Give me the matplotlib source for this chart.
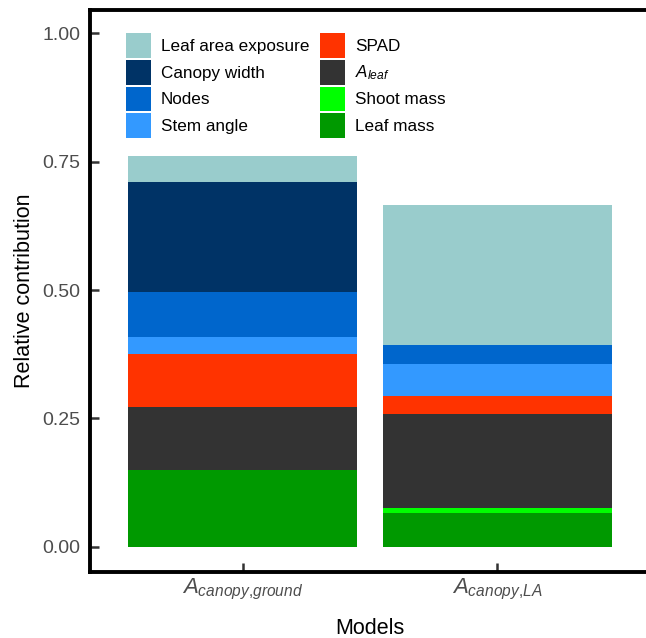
import matplotlib
matplotlib.use("Agg")
import matplotlib.pyplot as plt
from matplotlib.patches import Patch

# stacked from bottom to top
components = ["Leaf mass", "Shoot mass", "$A_{leaf}$", "SPAD",
              "Stem angle", "Nodes", "Canopy width", "Leaf area exposure"]
colors = ["#009900", "#00FF00", "#333333", "#FF3300",
          "#3399FF", "#0066CC", "#003366", "#99CCCC"]

models = [r"$A_{canopy{,}ground}$", r"$A_{canopy{,}LA}$"]
ground = [0.149, 0.000, 0.123, 0.104, 0.033, 0.087, 0.215, 0.051]
la = [0.065, 0.011, 0.183, 0.034, 0.062, 0.037, 0.000, 0.273]

plt.rcParams["font.family"] = ["Liberation Sans", "DejaVu Sans"]
plt.rcParams["mathtext.fontset"] = "custom"
plt.rcParams["mathtext.rm"] = "Liberation Sans"
plt.rcParams["mathtext.it"] = "Liberation Sans:italic"

fig = plt.figure(figsize=(6.46, 6.38), dpi=100)
ax = fig.add_axes([90 / 646, (638 - 571.7) / 638, 560 / 646, 562.2 / 638])

xs = [1, 2]
bottoms = [0.0, 0.0]
for i, name in enumerate(components):
    vals = [ground[i], la[i]]
    ax.bar(xs, vals, width=0.9, bottom=bottoms, color=colors[i], linewidth=0)
    bottoms = [b + v for b, v in zip(bottoms, vals)]

ax.set_xlim(0.4, 2.6)
ax.set_ylim(-0.0487, 1.0464)
ax.set_xticks(xs)
ax.set_xticklabels(models)
ax.set_yticks([0, 0.25, 0.5, 0.75, 1.0])
ax.set_yticklabels(["0.00", "0.25", "0.50", "0.75", "1.00"])

for s in ax.spines.values():
    s.set_linewidth(2.8)
ax.tick_params(direction="in", length=6.5, width=1.8, color="#333333",
               labelcolor="#4D4D4D")
ax.tick_params(axis="y", labelsize=14, pad=7)
ax.tick_params(axis="x", labelsize=16, pad=4)

ax.set_ylabel("Relative contribution", fontsize=15.5, labelpad=5)
ax.set_xlabel("Models", fontsize=15.5, labelpad=11)

# legend: reverse of stacking order, filled column-wise
order = [7, 6, 5, 4, 3, 2, 1, 0]
handles = [Patch(facecolor=colors[k], edgecolor="none", label=components[k]) for k in order]
ax.legend(handles=handles, ncol=2, loc="upper left",
          bbox_to_anchor=((126 - 90) / 560, (571.7 - 33) / 562.2),
          frameon=False, fontsize=12.3, borderpad=0, borderaxespad=0,
          handlelength=1.45, handleheight=1.85, handletextpad=0.6,
          labelspacing=0.12, columnspacing=0.6)

fig.savefig("out.png", dpi=100)
